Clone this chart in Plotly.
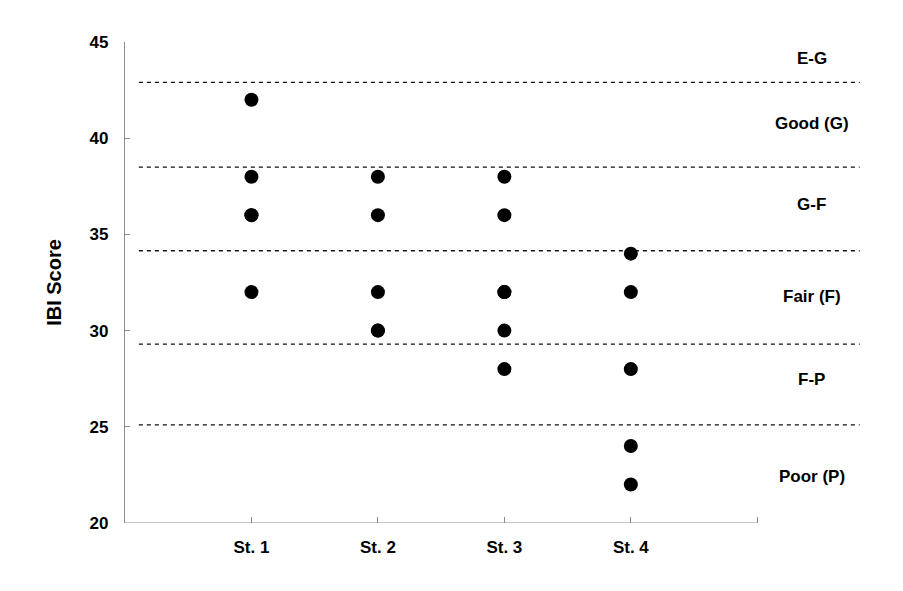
import plotly.graph_objects as go

# Data
stations = ["St. 1", "St. 2", "St. 3", "St. 4"]
station_pos = [1, 2, 3, 4]
scores = {
    "St. 1": [42, 38, 36, 36, 32],
    "St. 2": [38, 36, 32, 30, 30],
    "St. 3": [38, 36, 32, 32, 30, 28],
    "St. 4": [34, 32, 28, 24, 22],
}
thresholds = [42.9, 38.5, 34.15, 29.3, 25.1]
band_labels = ["E-G", "Good (G)", "G-F", "Fair (F)", "F-P", "Poor (P)"]
band_label_y = [44.15, 40.75, 36.55, 31.75, 27.45, 22.4]
y_ticks = [20, 25, 30, 35, 40, 45]

FONT = "Liberation Sans, Arial, sans-serif"
AXIS_GRAY = "#8c8c8c"

fig = go.Figure()

# threshold dashed lines
for t in thresholds:
    fig.add_trace(go.Scatter(
        x=[0.11, 5.81], y=[t, t], mode="lines",
        line=dict(color="#111111", width=1.3, dash="4px,4px"),
        hoverinfo="skip", showlegend=False))

# points
for pos, st in zip(station_pos, stations):
    vals = scores[st]
    fig.add_trace(go.Scatter(
        x=[pos] * len(vals), y=vals, mode="markers",
        marker=dict(color="black", size=14, line=dict(width=0)),
        showlegend=False, cliponaxis=False))

# x axis baseline (only up to 5)
fig.add_shape(type="line", xref="x", yref="y", x0=0, x1=5, y0=20, y1=20,
              line=dict(color=AXIS_GRAY, width=1.2))

for lab, yy in zip(band_labels, band_label_y):
    fig.add_annotation(x=5.43, y=yy, xref="x", yref="y", text=lab,
                       showarrow=False,
                       font=dict(family=FONT, size=17, color="black", weight="bold"))

fig.update_layout(
    width=903, height=591,
    margin=dict(l=117, r=50, t=34, b=76),
    plot_bgcolor="white", paper_bgcolor="white",
    showlegend=False,
    font=dict(family=FONT, color="black"),
    xaxis=dict(
        range=[0, 5.82], showgrid=False, zeroline=False, showline=False,
        tickmode="array", tickvals=[1, 2, 3, 4, 5],
        ticktext=stations + [""],
        ticks="inside", ticklen=6, tickcolor=AXIS_GRAY, tickwidth=1,
        tickfont=dict(family=FONT, size=17, color="black", weight="bold"),
        ticklabelstandoff=12,
    ),
    yaxis=dict(
        range=[20, 45], showgrid=False, zeroline=False,
        showline=True, linecolor=AXIS_GRAY, linewidth=1.2,
        tickmode="array", tickvals=y_ticks,
        ticks="inside", ticklen=5, tickcolor=AXIS_GRAY, tickwidth=1,
        tickfont=dict(family=FONT, size=17, color="black", weight="bold"),
        ticklabelstandoff=12,
        title=dict(text="IBI Score", standoff=22,
                   font=dict(family=FONT, size=20, color="black", weight="bold")),
    ),
)

fig.write_html("out.html")
